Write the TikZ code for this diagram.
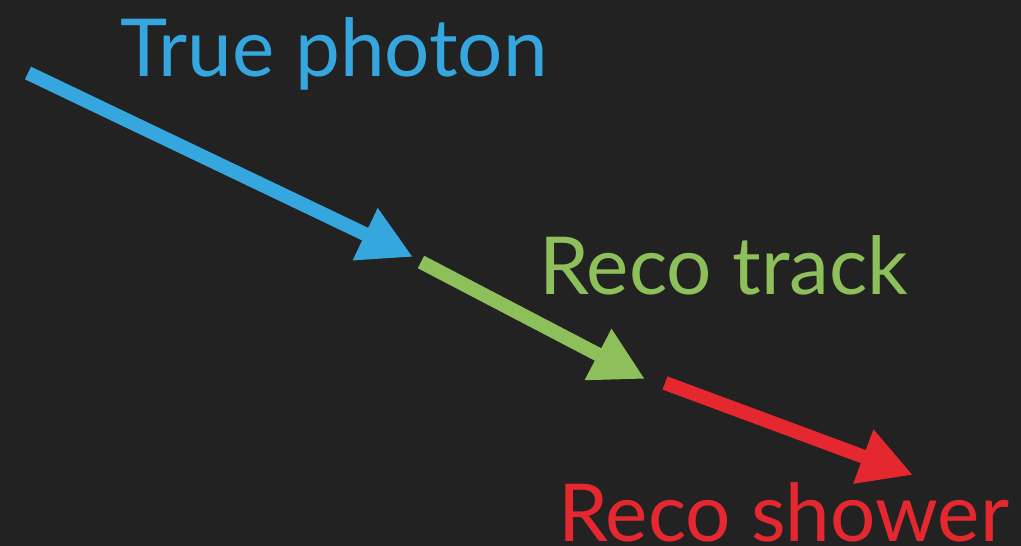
\documentclass[tikz,border=0pt]{standalone}
\usepackage{fontspec}
\setmainfont{Lato}
\usetikzlibrary{arrows.meta}
\definecolor{bg}{HTML}{222222}
\definecolor{cblue}{HTML}{35A7DE}
\definecolor{cgreen}{HTML}{8DBF5A}
\definecolor{cred}{HTML}{E5282F}
\tikzset{
  arr/.style={line width=14pt, -{Triangle[length=53pt,width=54pt]}},
  lbl/.style={inner sep=0pt, anchor=base west, font=\fontsize{80}{80}\selectfont}
}
\begin{document}
\begin{tikzpicture}[x=1pt,y=-1pt]
\fill[bg] (0,0) rectangle (1021,546);
\useasboundingbox (0,0) rectangle (1021,546);
\coordinate (b1) at (28,73);
\coordinate (b2) at (413,257);
\coordinate (g1) at (421,262);
\coordinate (g2) at (645,379);
\coordinate (r1) at (665,383);
\coordinate (r2) at (913,475);
\draw[arr, cblue] (b1) -- (b2);
\draw[arr, cgreen] (g1) -- (g2);
\draw[arr, cred] (r1) -- (r2);
\node[lbl, text=cblue] (t1) at (120,76) {True photon};
\node[lbl, text=cgreen] (t2) at (539,294) {Reco track};
\node[lbl, text=cred] (t3) at (558,541) {Reco shower};
\end{tikzpicture}
\end{document}
